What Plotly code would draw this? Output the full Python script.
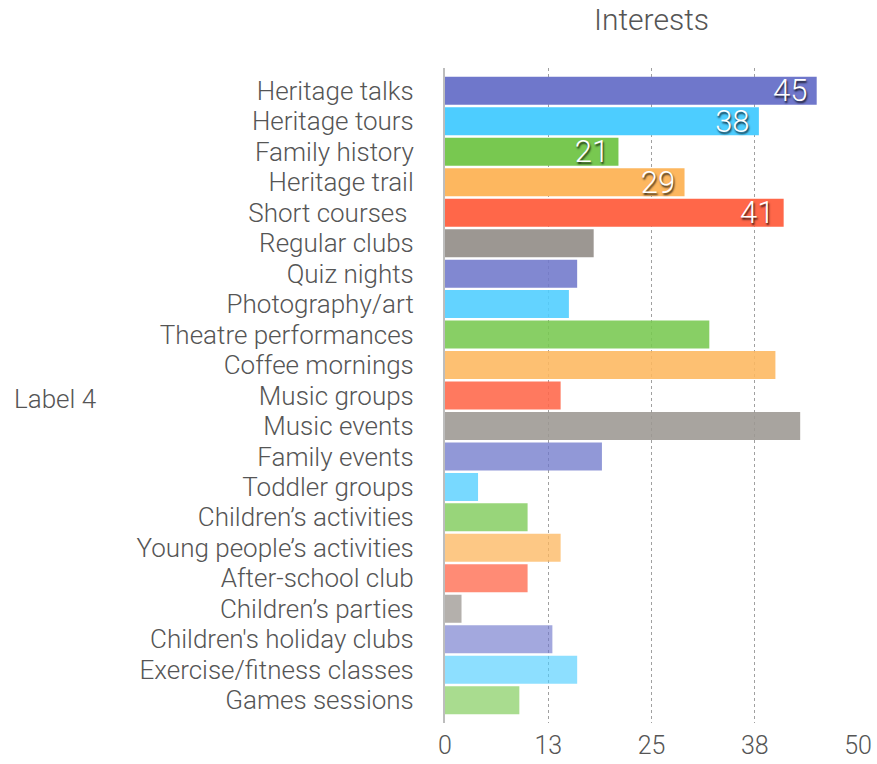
import plotly.graph_objects as go

categories = [
    "Heritage talks", "Heritage tours", "Family history", "Heritage trail",
    "Short courses\u00a0", "Regular clubs", "Quiz nights", "Photography/art",
    "Theatre performances", "Coffee mornings", "Music groups", "Music events",
    "Family events", "Toddler groups", "Children\u2019s activities",
    "Young people\u2019s activities", "After-school club", "Children\u2019s parties",
    "Children's holiday clubs", "Exercise/fitness classes", "Games sessions",
]
values = [45, 38, 21, 29, 41, 18, 16, 15, 32, 40, 14, 43, 19, 4, 10, 14, 10, 2, 13, 16, 9]
value_labels = ["45", "38", "21", "29", "41"] + [""] * 16

x_tick_vals = [0, 12.5, 25, 37.5, 50]
x_tick_text = ["0", "13", "25", "38", "50"]

base_colors = [(111, 119, 203), (77, 205, 255), (120, 200, 80),
               (253, 183, 95), (255, 103, 73), (156, 151, 146)]
cycle_alpha = [1.0, 0.88, 0.76, 0.64]

colors = []
for i in range(len(categories)):
    r, g, b = base_colors[i % 6]
    a = cycle_alpha[i // 6]
    colors.append(f"rgba({r},{g},{b},{a})")

FONT = "Roboto, 'Liberation Sans', sans-serif"
TXT = "#555555"

fig = go.Figure(go.Bar(
    y=categories, x=values, orientation="h",
    marker=dict(color=colors, line=dict(width=0)),
    width=0.92,
    text=[t + "\u2009" if t else "" for t in value_labels],
    textposition="inside",
    insidetextanchor="end",
    textangle=0,
    textfont=dict(color="white", size=31, family=FONT, weight=300,
                  shadow="1px 2px 2px rgba(0,0,0,0.8)"),
    constraintext="none",
    cliponaxis=False,
))

fig.update_layout(
    width=877, height=764,
    paper_bgcolor="white", plot_bgcolor="white",
    margin=dict(l=445, r=19, t=68, b=41, autoexpand=False),
    font=dict(family=FONT, color=TXT, size=26, weight=300),
    title=dict(text="Interests", x=0.5, xref="paper", xanchor="center",
               y=0.975, yref="container", yanchor="middle",
               font=dict(size=30, color=TXT, family=FONT, weight=300)),
    showlegend=False,
    uniformtext=dict(mode="show", minsize=31),
)

fig.update_xaxes(
    range=[0, 50], tickvals=x_tick_vals, ticktext=x_tick_text,
    showgrid=True, gridcolor="#a0a0a0", griddash="3px,3px", gridwidth=1,
    zeroline=False, showline=False, ticks="", automargin=False,
    ticklabelstandoff=5,
    tickfont=dict(size=25, color=TXT, family=FONT, weight=300),
)
fig.update_yaxes(
    range=[20.75, -0.75], categoryorder="array", categoryarray=categories,
    tickmode="array", tickvals=categories,
    showgrid=False, zeroline=False, automargin=False,
    showline=True, linecolor="#bdbdbd", linewidth=2,
    ticks="", ticklabelstandoff=24,
    tickfont=dict(size=26, color=TXT, family=FONT, weight=300),
)

fig.add_annotation(
    text="Label 4", xref="paper", yref="paper",
    x=(12 - 445) / 413, y=(723 - 399) / 655,
    xanchor="left", yanchor="middle", showarrow=False,
    font=dict(size=26, color=TXT, family=FONT, weight=300),
)

fig.write_html(
    "out.html",
    config={"displayModeBar": False},
    post_script="document.body.style.margin='0';document.body.style.padding='0';",
)
